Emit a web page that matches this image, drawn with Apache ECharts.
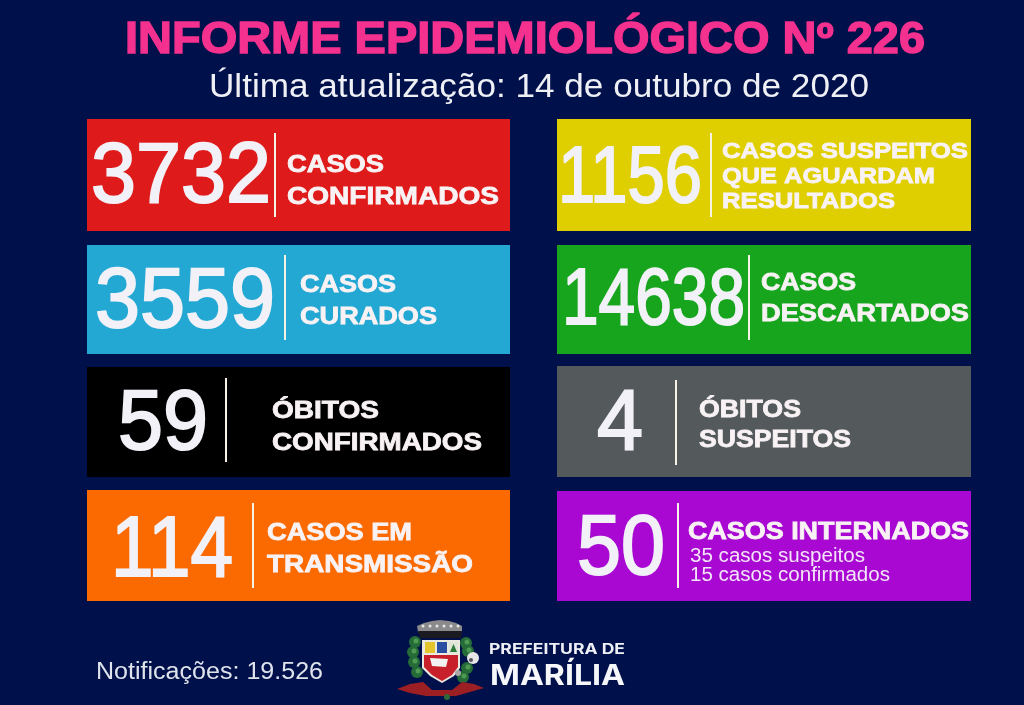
<!DOCTYPE html>
<html>
<head>
<meta charset="utf-8">
<title>Informe Epidemiológico</title>
<style>
html, body { margin: 0; padding: 0; background: #00104a; }
#chart { width: 1024px; height: 705px; }
</style>
<script src="https://cdn.jsdelivr.net/npm/echarts@6/dist/echarts.min.js"></script>
</head>
<body>
<div id="chart"></div>
<script>
// dados do informe
var valores = ['3732', '3559', '59', '114', '1156', '14638', '4', '50'];
var rotulos = [
    ['CASOS', 'CONFIRMADOS'],
    ['CASOS', 'CURADOS'],
    ['ÓBITOS', 'CONFIRMADOS'],
    ['CASOS EM', 'TRANSMISSÃO'],
    ['CASOS SUSPEITOS', 'QUE AGUARDAM', 'RESULTADOS'],
    ['CASOS', 'DESCARTADOS'],
    ['ÓBITOS', 'SUSPEITOS'],
    ['CASOS INTERNADOS']
];
var detalhes = [[], [], [], [], [], [], [], ['35 casos suspeitos', '15 casos confirmados']];
var titulo = 'INFORME EPIDEMIOLÓGICO Nº 226';
var subtitulo = 'Última atualização: 14 de outubro de 2020';
var notificacoes = 'Notificações: 19.526';
var prefeitura = 'PREFEITURA DE';
var cidade = 'MARÍLIA';

// aparencia e posicoes (nao sao dados)
var cores = ['#df1a1a', '#23a8d4', '#000000', '#fb6a00', '#e0cf00', '#18a51e', '#545a5c', '#a808d2'];
var caixas = [[87, 119, 510, 231], [87, 245, 510, 354], [87, 367, 510, 477], [87, 490, 510, 601],
              [557, 119, 971, 231], [557, 245, 971, 354], [557, 366, 971, 477], [557, 491, 971, 601]];
var numeroPos = [[91, 271, 179, 85], [95, 275, 304, 85], [118, 208, 426, 85], [111, 233, 553, 85],
                 [558, 702, 180, 80], [562, 745, 302, 80], [597, 643, 426, 85], [577, 665, 551, 85]];
var divisorias = [[275, 133, 217], [285, 255, 340], [226, 378, 462], [253, 503, 588],
                  [711, 133, 217], [749, 255, 340], [676, 380, 465], [678, 503, 588]];
var rotuloPos = [
    [[287, 384, 165], [287, 499, 197]],
    [[300, 396, 285], [300, 437, 317]],
    [[272, 379, 411], [272, 482, 443]],
    [[267, 412, 533], [267, 473, 565]],
    [[722, 968, 152], [722, 935, 177], [722, 895, 202]],
    [[761, 856, 283], [761, 969, 314]],
    [[699, 801, 410], [699, 851, 440]],
    [[688, 969, 532]]
];
var detalhePos = [[], [], [], [], [], [], [], [[690, 865, 556], [690, 890, 575]]];

var medidor = document.createElement('canvas').getContext('2d');

// texto ajustado na largura entre x0 e x1
function texto(api, str, x0, x1, y, font, cor, contorno) {
    var p = api.coord([x0, y]);
    var p2 = api.coord([x1, y]);
    medidor.font = font;
    return {
        type: 'text',
        x: p[0],
        y: p[1],
        scaleX: (p2[0] - p[0]) / medidor.measureText(str).width,
        style: {
            text: str,
            font: font,
            fill: cor,
            stroke: contorno ? cor : null,
            lineWidth: contorno || 0,
            textAlign: 'left',
            textVerticalAlign: 'middle'
        }
    };
}

function retangulo(api, box, cor) {
    var a = api.coord([box[0], box[1]]);
    var b = api.coord([box[2], box[3]]);
    return { type: 'rect', shape: { x: a[0], y: a[1], width: b[0] - a[0], height: b[1] - a[1] }, style: { fill: cor } };
}

function renderCartao(params, api) {
    var i = api.value(0);
    var filhos = [retangulo(api, caixas[i], cores[i])];
    var n = numeroPos[i];
    filhos.push(texto(api, valores[i], n[0], n[1], n[2], n[3] + 'px "Liberation Sans"', '#f1f1f7', 2));
    var d = divisorias[i];
    filhos.push(retangulo(api, [d[0] - 1, d[1], d[0] + 1, d[2]], '#f6f2e4'));
    rotulos[i].forEach(function (str, k) {
        var r = rotuloPos[i][k];
        var tam = rotulos[i].length == 3 ? 22 : 24;
        filhos.push(texto(api, str, r[0], r[1], r[2], 'bold ' + tam + 'px "Liberation Sans"', '#f8f2f4', 0.8));
    });
    detalhes[i].forEach(function (str, k) {
        var r = detalhePos[i][k];
        filhos.push(texto(api, str, r[0], r[1], r[2], '20px "Liberation Sans"', '#f3e4f8'));
    });
    return { type: 'group', children: filhos };
}

// poligono do brasao, pontos em pixels da pagina
function poli(api, pontos, cor) {
    return {
        type: 'polygon',
        shape: { points: pontos.map(function (p) { return api.coord(p); }) },
        style: { fill: cor }
    };
}

function circulo(api, x, y, r, cor) {
    var c = api.coord([x, y]);
    return { type: 'circle', shape: { cx: c[0], cy: c[1], r: r }, style: { fill: cor } };
}

// ramos verdes de cada lado do escudo
function folhas(api, pontos) {
    var lista = [];
    pontos.forEach(function (f) {
        lista.push(circulo(api, f[0], f[1], 6, '#256b38'));
        lista.push(circulo(api, f[0] + 1, f[1] - 1, 2.5, '#4f9a52'));
    });
    return lista;
}

function renderCabecalho(params, api) {
    var filhos = [
        texto(api, titulo, 125, 925, 41, 'bold 44px "Liberation Sans"', '#f5318f', 1.4),
        texto(api, subtitulo, 209, 869, 88, '33px "Liberation Sans"', '#eef0f6'),
        texto(api, notificacoes, 96, 323, 673, '23px "Liberation Sans"', '#dfe3ec'),
        texto(api, prefeitura, 489, 625, 650, 'bold 14px "Inter"', '#eef0f6'),
        texto(api, cidade, 490, 625, 677, 'bold 28px "Inter"', '#f6f7fa')
    ];
    // brasao
    filhos = filhos.concat(
        folhas(api, [[415, 642], [413, 652], [414, 662], [417, 672]]),
        folhas(api, [[466, 643], [468, 651], [467, 668], [463, 677]])
    );
    filhos.push(poli(api, [[397, 689], [410, 684], [423, 682], [432, 690], [452, 690], [462, 682], [474, 684], [484, 688], [470, 692], [456, 696], [426, 696], [410, 693]], '#9c1f24'));
    filhos.push(circulo(api, 447, 697, 3, '#2c6a3a'));
    filhos.push(poli(api, [[418, 632], [417, 626], [424, 623], [432, 621], [440, 620], [449, 621], [456, 623], [462, 626], [462, 632], [440, 634]], '#8a8a8c'));
    filhos.push(poli(api, [[418, 631], [462, 631], [461, 638], [420, 638]], '#1a1a20'));
    [423, 430, 437, 444, 451, 458].forEach(function (x) {
        filhos.push(circulo(api, x, 626, 1.5, '#e6e6e6'));
    });
    filhos.push(poli(api, [[422, 640], [460, 640], [460, 668], [454, 676], [442, 683], [430, 676], [422, 668]], '#e9e9e0'));
    filhos.push(poli(api, [[424, 655], [458, 655], [458, 667], [452, 675], [442, 681], [432, 675], [424, 667]], '#c8202a'));
    filhos.push(poli(api, [[425, 642], [435, 642], [435, 653], [425, 653]], '#e5c52c'));
    filhos.push(poli(api, [[437, 642], [447, 642], [447, 653], [437, 653]], '#2a4fa0'));
    filhos.push(poli(api, [[449, 642], [458, 642], [458, 653], [449, 653]], '#dfe6d8'));
    filhos.push(poli(api, [[450, 652], [453.5, 644], [457, 652]], '#2c7a3a'));
    filhos.push(poli(api, [[430, 658], [448, 659], [446, 667], [432, 666]], '#f2f2f2'));
    filhos.push(circulo(api, 473, 658, 6, '#e6e6e6'));
    filhos.push(circulo(api, 471, 660, 2, '#55555a'));
    filhos.push(circulo(api, 458, 673, 3, '#a8a8a8'));
    return { type: 'group', children: filhos };
}

var myChart = echarts.init(document.getElementById('chart'));
var option = {
    backgroundColor: '#00104a',
    animation: false,
    grid: { left: 0, right: 0, top: 0, bottom: 0 },
    xAxis: { type: 'value', min: 0, max: 1024, show: false },
    yAxis: { type: 'value', min: 0, max: 705, inverse: true, show: false },
    series: [
        { type: 'custom', silent: true, clip: false, renderItem: renderCabecalho, data: [[0]] },
        {
            type: 'custom',
            silent: true,
            clip: false,
            renderItem: renderCartao,
            data: valores.map(function (v, i) { return [i, Number(v)]; })
        }
    ]
};
myChart.setOption(option);
</script>
</body>
</html>
